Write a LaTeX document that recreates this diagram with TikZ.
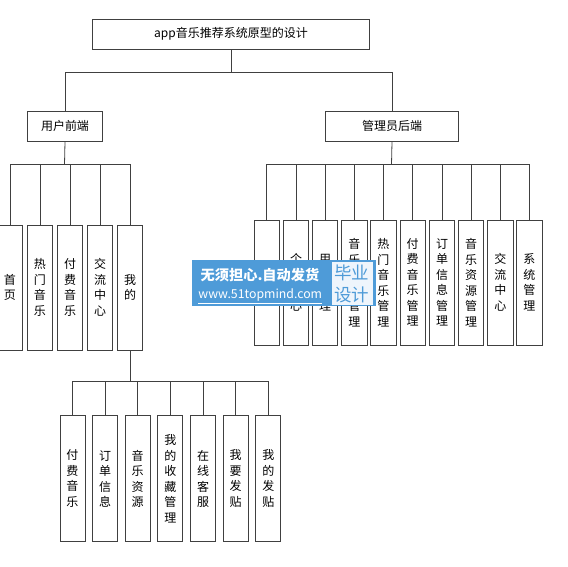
\documentclass[tikz,border=0pt]{standalone}
\usepackage{fontspec}
\newfontfamily\cjk{Noto Sans CJK SC}
\definecolor{wmblue}{HTML}{4E9BD8}
\definecolor{wmlight}{HTML}{EEF5FC}
\begin{document}
\begin{tikzpicture}[x=1pt,y=-1pt,
  box/.style={draw=black!75,line width=0.8pt,fill=white,inner sep=0pt,font=\cjk\fontsize{12}{15}\selectfont},
  vbox/.style={box,minimum width=25.3pt,minimum height=125pt,align=center,font=\cjk\fontsize{12}{15.5}\selectfont},
  link/.style={draw=black!75,line width=0.8pt}]
\useasboundingbox (0,0) rectangle (568,567);
% root and level 1
\node[box,minimum width=277pt,minimum height=30pt] (root) at (231,34) {app音乐推荐系统原型的设计};
\node[box,minimum width=75pt,minimum height=30.5pt] (user) at (65,126.2) {用户前端};
\node[box,minimum width=133pt,minimum height=30.5pt] (admin) at (392,126.2) {管理员后端};
\coordinate (b0) at (231,72.7);
\draw[link] (root.south) -- (b0);
\draw[link] (user.north) |- (b0) -| (admin.north);
% user children
\node[vbox] (u1) at (10,287.5) {首\\页};
\node[vbox] (u2) at (40,287.5) {热\\门\\音\\乐};
\node[vbox] (u3) at (70,287.5) {付\\费\\音\\乐};
\node[vbox] (u4) at (100,287.5) {交\\流\\中\\心};
\node[vbox] (u5) at (130,287.5) {我\\的};
\coordinate (ub) at (64.5,164.7);
\draw[link] (user.south) -- (ub);
\foreach \i in {1,...,5} \draw[link] (u\i.north) |- (ub);
% admin children
\node[vbox] (a1) at (266.7,282.5) {};
\node[vbox] (a2) at (296,282.5) {个\\人\\中\\心};
\node[vbox] (a3) at (325,282.5) {用\\户\\管\\理};
\node[vbox] (a4) at (354.3,282.5) {音\\乐\\分\\类\\管\\理};
\node[vbox] (a5) at (383.4,282.5) {热\\门\\音\\乐\\管\\理};
\node[vbox] (a6) at (412.7,282.5) {付\\费\\音\\乐\\管\\理};
\node[vbox] (a7) at (442,282.5) {订\\单\\信\\息\\管\\理};
\node[vbox] (a8) at (471,282.5) {音\\乐\\资\\源\\管\\理};
\node[vbox] (a9) at (500.3,282.5) {交\\流\\中\\心};
\node[vbox] (a10) at (529.3,282.5) {系\\统\\管\\理};
\coordinate (ab) at (391.5,164.7);
\draw[link] (admin.south) -- (ab);
\foreach \i in {1,...,10} \draw[link] (a\i.north) |- (ab);
% my children
\node[vbox,minimum width=25pt,minimum height=126pt] (m1) at (72.4,478.7) {付\\费\\音\\乐};
\node[vbox,minimum width=25pt,minimum height=126pt] (m2) at (105,478.7) {订\\单\\信\\息};
\node[vbox,minimum width=25pt,minimum height=126pt] (m3) at (137.7,478.7) {音\\乐\\资\\源};
\node[vbox,minimum width=25pt,minimum height=126pt] (m4) at (170.3,478.7) {我\\的\\收\\藏\\管\\理};
\node[vbox,minimum width=25pt,minimum height=126pt] (m5) at (203,478.7) {在\\线\\客\\服};
\node[vbox,minimum width=25pt,minimum height=126pt] (m6) at (235.7,478.7) {我\\要\\发\\贴};
\node[vbox,minimum width=25pt,minimum height=126pt] (m7) at (268.3,478.7) {我\\的\\发\\贴};
\coordinate (mb) at (130,381.7);
\draw[link] (u5.south) -- (mb);
\foreach \i in {1,...,7} \draw[link] (m\i.north) |- (mb);
% watermark
\node[fill=wmblue,minimum width=184.3pt,minimum height=46pt,inner sep=0pt] (wm) at (283.85,283) {};
\node[fill=wmlight,minimum width=41.3pt,minimum height=42.7pt,inner sep=0pt] (wml) at (352.35,283.65) {};
\node[text=white,font=\cjk\fontsize{14.2}{16}\selectfont\bfseries,inner sep=0pt] (wt1) at (260,275) {无须担心.自动发货};
\node[text=white,font=\cjk\fontsize{12.3}{14}\selectfont,inner sep=0pt] (wt2) at (260.3,296.3) {\underline{www.51topmind.com}};
\node[text=wmblue,font=\cjk\fontsize{17.5}{20}\selectfont,inner sep=0pt] (wt3) at (351.5,272.5) {毕业};
\node[text=wmblue,font=\cjk\fontsize{17.5}{20}\selectfont,inner sep=0pt] (wt4) at (351.5,294.5) {设计};
\end{tikzpicture}
\end{document}
